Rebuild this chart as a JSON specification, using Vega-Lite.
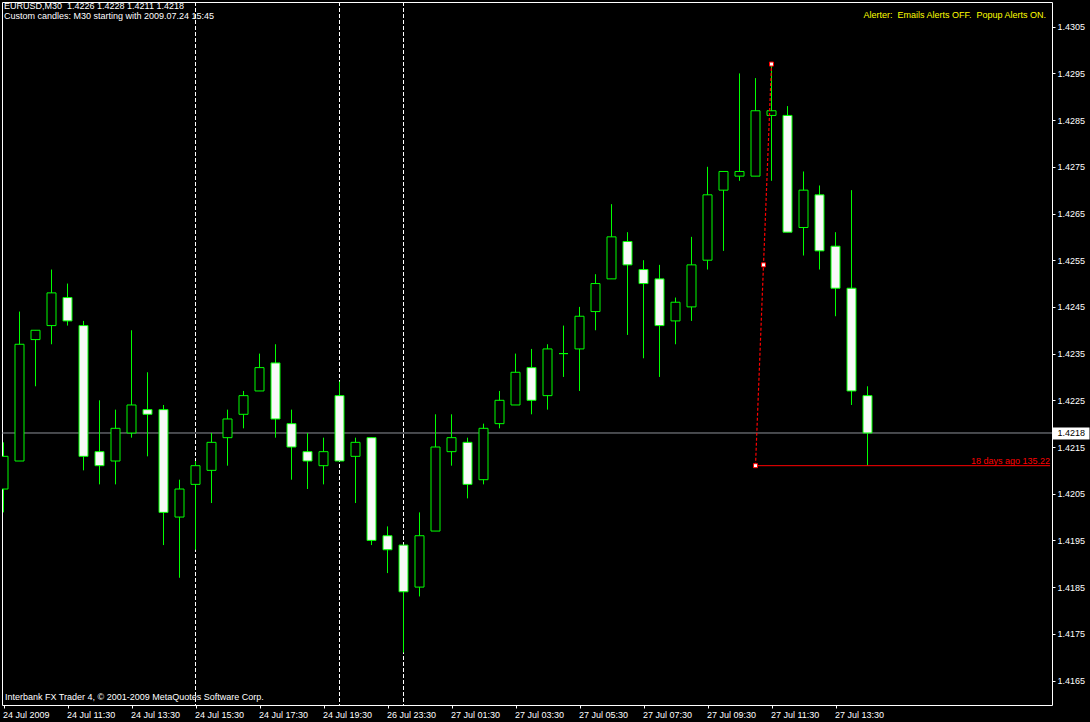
{
  "$schema": "https://vega.github.io/schema/vega-lite/v6.json",
  "width": 1050,
  "height": 703,
  "autosize": {"type": "none"},
  "padding": {"left": 2, "top": 2, "right": 38, "bottom": 17},
  "background": "#000000",
  "config": {
    "view": {"stroke": "#ffffff", "strokeWidth": 1},
    "font": "Liberation Sans",
    "axis": {"title": null, "grid": false, "domain": false, "ticks": false, "labels": false}
  },
  "datasets": {
    "candles": [
      {"i": 0, "open": 1.4206, "high": 1.4216, "low": 1.4201, "close": 1.4213},
      {"i": 1, "open": 1.4212, "high": 1.4244, "low": 1.4212, "close": 1.4237},
      {"i": 2, "open": 1.4238, "high": 1.4240, "low": 1.4228, "close": 1.4240},
      {"i": 3, "open": 1.4241, "high": 1.4253, "low": 1.4237, "close": 1.4248},
      {"i": 4, "open": 1.4247, "high": 1.4250, "low": 1.4241, "close": 1.4242},
      {"i": 5, "open": 1.4241, "high": 1.4242, "low": 1.4210, "close": 1.4213},
      {"i": 6, "open": 1.4214, "high": 1.4225, "low": 1.4207, "close": 1.4211},
      {"i": 7, "open": 1.4212, "high": 1.4223, "low": 1.4207, "close": 1.4219},
      {"i": 8, "open": 1.4218, "high": 1.4240, "low": 1.4217, "close": 1.4224},
      {"i": 9, "open": 1.4223, "high": 1.4231, "low": 1.4213, "close": 1.4222},
      {"i": 10, "open": 1.4223, "high": 1.4224, "low": 1.4194, "close": 1.4201},
      {"i": 11, "open": 1.4200, "high": 1.4208, "low": 1.4187, "close": 1.4206},
      {"i": 12, "open": 1.4207, "high": 1.4212, "low": 1.4193, "close": 1.4211},
      {"i": 13, "open": 1.4210, "high": 1.4218, "low": 1.4203, "close": 1.4216},
      {"i": 14, "open": 1.4217, "high": 1.4223, "low": 1.4211, "close": 1.4221},
      {"i": 15, "open": 1.4222, "high": 1.4227, "low": 1.4219, "close": 1.4226},
      {"i": 16, "open": 1.4227, "high": 1.4235, "low": 1.4227, "close": 1.4232},
      {"i": 17, "open": 1.4233, "high": 1.4237, "low": 1.4217, "close": 1.4221},
      {"i": 18, "open": 1.4220, "high": 1.4223, "low": 1.4208, "close": 1.4215},
      {"i": 19, "open": 1.4214, "high": 1.4218, "low": 1.4206, "close": 1.4212},
      {"i": 20, "open": 1.4211, "high": 1.4217, "low": 1.4207, "close": 1.4214},
      {"i": 21, "open": 1.4226, "high": 1.4229, "low": 1.4212, "close": 1.4212},
      {"i": 22, "open": 1.4213, "high": 1.4217, "low": 1.4203, "close": 1.4216},
      {"i": 23, "open": 1.4217, "high": 1.4217, "low": 1.4194, "close": 1.4195},
      {"i": 24, "open": 1.4196, "high": 1.4198, "low": 1.4188, "close": 1.4193},
      {"i": 25, "open": 1.4194, "high": 1.4194, "low": 1.4171, "close": 1.4184},
      {"i": 26, "open": 1.4185, "high": 1.4201, "low": 1.4183, "close": 1.4196},
      {"i": 27, "open": 1.4197, "high": 1.4222, "low": 1.4197, "close": 1.4215},
      {"i": 28, "open": 1.4214, "high": 1.4222, "low": 1.4211, "close": 1.4217},
      {"i": 29, "open": 1.4216, "high": 1.4217, "low": 1.4204, "close": 1.4207},
      {"i": 30, "open": 1.4208, "high": 1.4220, "low": 1.4207, "close": 1.4219},
      {"i": 31, "open": 1.4220, "high": 1.4227, "low": 1.4219, "close": 1.4225},
      {"i": 32, "open": 1.4224, "high": 1.4235, "low": 1.4224, "close": 1.4231},
      {"i": 33, "open": 1.4232, "high": 1.4236, "low": 1.4222, "close": 1.4225},
      {"i": 34, "open": 1.4226, "high": 1.4237, "low": 1.4223, "close": 1.4236},
      {"i": 35, "open": 1.4235, "high": 1.4241, "low": 1.4230, "close": 1.4235},
      {"i": 36, "open": 1.4236, "high": 1.4245, "low": 1.4227, "close": 1.4243},
      {"i": 37, "open": 1.4244, "high": 1.4252, "low": 1.4240, "close": 1.4250},
      {"i": 38, "open": 1.4251, "high": 1.4267, "low": 1.4251, "close": 1.4260},
      {"i": 39, "open": 1.4259, "high": 1.4261, "low": 1.4239, "close": 1.4254},
      {"i": 40, "open": 1.4253, "high": 1.4255, "low": 1.4234, "close": 1.4250},
      {"i": 41, "open": 1.4251, "high": 1.4254, "low": 1.4230, "close": 1.4241},
      {"i": 42, "open": 1.4242, "high": 1.4247, "low": 1.4237, "close": 1.4246},
      {"i": 43, "open": 1.4245, "high": 1.4260, "low": 1.4242, "close": 1.4254},
      {"i": 44, "open": 1.4255, "high": 1.4275, "low": 1.4253, "close": 1.4269},
      {"i": 45, "open": 1.4270, "high": 1.4274, "low": 1.4257, "close": 1.4274},
      {"i": 46, "open": 1.4273, "high": 1.4295, "low": 1.4272, "close": 1.4274},
      {"i": 47, "open": 1.4273, "high": 1.4294, "low": 1.4273, "close": 1.4287},
      {"i": 48, "open": 1.4286, "high": 1.4297, "low": 1.4272, "close": 1.4287},
      {"i": 49, "open": 1.4286, "high": 1.4288, "low": 1.4261, "close": 1.4261},
      {"i": 50, "open": 1.4262, "high": 1.4274, "low": 1.4256, "close": 1.4270},
      {"i": 51, "open": 1.4269, "high": 1.4271, "low": 1.4253, "close": 1.4257},
      {"i": 52, "open": 1.4258, "high": 1.4261, "low": 1.4243, "close": 1.4249},
      {"i": 53, "open": 1.4249, "high": 1.4270, "low": 1.4224, "close": 1.4227},
      {"i": 54, "open": 1.4226, "high": 1.4228, "low": 1.4211, "close": 1.4218}
    ],
    "seps": [{"i": 12}, {"i": 21}, {"i": 25}],
    "bid": [{"p": 1.4218}],
    "level": [{"i": 47, "to": 65.41, "p": 1.4211}],
    "trend": [{"i": 47, "p": 1.4211}, {"i": 48, "p": 1.4297}],
    "anchors": [{"i": 47, "p": 1.4211}, {"i": 47.5, "p": 1.4254}, {"i": 48, "p": 1.4297}]
  },
  "layer": [
    {
      "data": {"name": "seps"},
      "mark": {"type": "rule", "color": "#ffffff", "strokeDash": [4, 2], "strokeWidth": 1, "clip": true},
      "encoding": {
        "x": {"field": "i", "type": "quantitative", "scale": {"domain": [-0.09375, 65.53125], "nice": false, "zero": false, "padding": 0}}
      }
    },
    {
      "data": {"name": "bid"},
      "mark": {"type": "rule", "color": "#8c9099", "strokeWidth": 1, "clip": true},
      "encoding": {
        "y": {"field": "p", "type": "quantitative", "scale": {"domain": [1.4159754, 1.4310289], "nice": false, "zero": false}}
      }
    },
    {
      "data": {"name": "candles"},
      "mark": {"type": "rule", "color": "#00ff00", "strokeWidth": 1, "clip": true},
      "encoding": {
        "x": {"field": "i", "type": "quantitative", "scale": {"domain": [-0.09375, 65.53125], "nice": false, "zero": false, "padding": 0}},
        "y": {"field": "low", "type": "quantitative", "scale": {"domain": [1.4159754, 1.4310289], "nice": false, "zero": false}},
        "y2": {"field": "high"}
      }
    },
    {
      "data": {"name": "candles"},
      "mark": {"type": "bar", "orient": "vertical", "size": 9, "stroke": "#00ff00", "strokeWidth": 1, "clip": true},
      "encoding": {
        "x": {
          "field": "i", "type": "quantitative",
          "scale": {"domain": [-0.09375, 65.53125], "nice": false, "zero": false, "padding": 0},
          "axis": {
            "orient": "bottom", "title": null, "domain": false, "grid": false, "ticks": true, "labels": true,
            "values": [0, 4, 8, 12, 16, 20, 24, 28, 32, 36, 40, 44, 48, 52],
            "labelExpr": "['24 Jul 2009','24 Jul 11:30','24 Jul 13:30','24 Jul 15:30','24 Jul 17:30','24 Jul 19:30','26 Jul 23:30','27 Jul 01:30','27 Jul 03:30','27 Jul 05:30','27 Jul 07:30','27 Jul 09:30','27 Jul 11:30','27 Jul 13:30'][round(datum.value/4)]",
            "labelAlign": "left", "labelBaseline": "top", "labelPadding": 2, "labelOffset": -1,
            "labelColor": "#ffffff", "labelFont": "Liberation Sans", "labelFontSize": 9,
            "labelOverlap": false, "labelBound": false, "labelFlush": false,
            "tickColor": "#ffffff", "tickSize": 3, "tickWidth": 1
          }
        },
        "y": {
          "field": "open", "type": "quantitative",
          "scale": {"domain": [1.4159754, 1.4310289], "nice": false, "zero": false},
          "axis": {
            "orient": "right", "title": null, "domain": false, "grid": false, "ticks": true, "labels": true,
            "values": [1.4165, 1.4175, 1.4185, 1.4195, 1.4205, 1.4215, 1.4218, 1.4225, 1.4235, 1.4245, 1.4255, 1.4265, 1.4275, 1.4285, 1.4295, 1.4305],
            "format": ".4f",
            "labelAlign": "left", "labelBaseline": "middle",
            "labelFont": "Liberation Sans", "labelFontSize": 9,
            "labelColor": {"condition": {"test": "abs(datum.value - 1.4218) < 0.00001", "value": "#000000"}, "value": "#ffffff"},
            "labelPadding": {"condition": {"test": "abs(datum.value - 1.4218) < 0.00001", "value": -32}, "value": 2},
            "labelOverlap": false, "labelBound": false, "labelFlush": false,
            "tickColor": "#ffffff",
            "tickSize": {"condition": {"test": "abs(datum.value - 1.4218) < 0.00001", "value": 37}, "value": 3},
            "tickWidth": {"condition": {"test": "abs(datum.value - 1.4218) < 0.00001", "value": 12}, "value": 1}
          }
        },
        "y2": {"field": "close"},
        "fill": {"condition": {"test": "datum.close < datum.open", "value": "#f8f8f8"}, "value": "#000000"}
      }
    },
    {
      "data": {"name": "level"},
      "mark": {"type": "rule", "color": "#ff0000", "strokeWidth": 1, "clip": true},
      "encoding": {
        "x": {"field": "i", "type": "quantitative", "scale": {"domain": [-0.09375, 65.53125], "nice": false, "zero": false, "padding": 0}},
        "x2": {"field": "to"},
        "y": {"field": "p", "type": "quantitative", "scale": {"domain": [1.4159754, 1.4310289], "nice": false, "zero": false}}
      }
    },
    {
      "data": {"name": "trend"},
      "mark": {"type": "line", "color": "#ff0000", "strokeWidth": 1.2, "strokeDash": [3, 2], "clip": true},
      "encoding": {
        "x": {"field": "i", "type": "quantitative", "scale": {"domain": [-0.09375, 65.53125], "nice": false, "zero": false, "padding": 0}},
        "y": {"field": "p", "type": "quantitative", "scale": {"domain": [1.4159754, 1.4310289], "nice": false, "zero": false}}
      }
    },
    {
      "data": {"name": "anchors"},
      "mark": {"type": "point", "shape": "square", "size": 16, "filled": true, "fill": "#ffffff", "stroke": "#ff0000", "strokeWidth": 1, "opacity": 1, "clip": true},
      "encoding": {
        "x": {"field": "i", "type": "quantitative", "scale": {"domain": [-0.09375, 65.53125], "nice": false, "zero": false, "padding": 0}},
        "y": {"field": "p", "type": "quantitative", "scale": {"domain": [1.4159754, 1.4310289], "nice": false, "zero": false}}
      }
    },
    {
      "data": {"values": [{}]},
      "mark": {"type": "text", "align": "left", "baseline": "alphabetic", "color": "#ffffff", "font": "Liberation Sans", "fontSize": 9, "lineBreak": "\n", "lineHeight": 10},
      "encoding": {
        "x": {"datum": 0.03, "type": "quantitative", "scale": {"domain": [-0.09375, 65.53125], "nice": false, "zero": false, "padding": 0}},
        "y": {"datum": 1.430873, "type": "quantitative", "scale": {"domain": [1.4159754, 1.4310289], "nice": false, "zero": false}},
        "text": {"value": "EURUSD,M30\u00a0 1.4226 1.4228 1.4211 1.4218\nCustom candles: M30 starting with 2009.07.24 15:45"}
      }
    },
    {
      "data": {"values": [{}]},
      "mark": {"type": "text", "align": "right", "baseline": "alphabetic", "color": "#ffff00", "font": "Liberation Sans", "fontSize": 9},
      "encoding": {
        "x": {"datum": 65.156, "type": "quantitative", "scale": {"domain": [-0.09375, 65.53125], "nice": false, "zero": false, "padding": 0}},
        "y": {"datum": 1.43068, "type": "quantitative", "scale": {"domain": [1.4159754, 1.4310289], "nice": false, "zero": false}},
        "text": {"value": "Alerter:\u00a0 Emails Alerts OFF.\u00a0 Popup Alerts ON."}
      }
    },
    {
      "data": {"values": [{}]},
      "mark": {"type": "text", "align": "left", "baseline": "alphabetic", "color": "#ffffff", "font": "Liberation Sans", "fontSize": 9},
      "encoding": {
        "x": {"datum": 0.094, "type": "quantitative", "scale": {"domain": [-0.09375, 65.53125], "nice": false, "zero": false, "padding": 0}},
        "y": {"datum": 1.416083, "type": "quantitative", "scale": {"domain": [1.4159754, 1.4310289], "nice": false, "zero": false}},
        "text": {"value": "Interbank FX Trader 4, © 2001-2009 MetaQuotes Software Corp."}
      }
    },
    {
      "data": {"values": [{}]},
      "mark": {"type": "text", "align": "right", "baseline": "alphabetic", "dy": -2, "color": "#ff0000", "font": "Liberation Sans", "fontSize": 9},
      "encoding": {
        "x": {"datum": 65.41, "type": "quantitative", "scale": {"domain": [-0.09375, 65.53125], "nice": false, "zero": false, "padding": 0}},
        "y": {"datum": 1.4211, "type": "quantitative", "scale": {"domain": [1.4159754, 1.4310289], "nice": false, "zero": false}},
        "text": {"value": "18 days ago 135.22"}
      }
    }
  ]
}
